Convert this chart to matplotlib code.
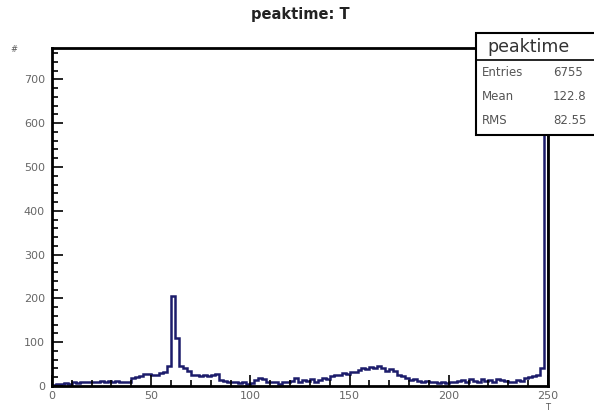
import matplotlib
matplotlib.use('Agg')
import matplotlib.pyplot as plt
import numpy as np
from matplotlib.ticker import MultipleLocator

# histogram "peaktime", 2-unit bins from 0 to 250
binEdges = np.arange(0, 252, 2)
counts = [
    2, 4, 5, 6, 5, 8, 7, 9, 8, 10,
    10, 9, 11, 10, 11, 10, 11, 10, 8, 10,
    18, 20, 22, 27, 28, 24, 26, 30, 33, 45,
    205, 110, 45, 42, 35, 25, 24, 23, 24, 22,
    24, 28, 14, 12, 10, 8, 10, 6, 8, 5,
    7, 14, 18, 16, 10, 8, 9, 5, 8, 10,
    12, 18, 10, 14, 12, 16, 10, 14, 18, 15,
    22, 26, 24, 30, 28, 33, 32, 36, 40, 38,
    44, 40, 46, 42, 35, 38, 34, 25, 22, 18,
    14, 15, 12, 10, 12, 8, 9, 6, 8, 6,
    9, 10, 12, 14, 10, 15, 12, 10, 16, 12,
    14, 10, 16, 14, 12, 10, 8, 14, 12, 18,
    20, 22, 24, 40, 735,
]
statNames = ['Entries', 'Mean', 'RMS']
statValues = ['6755', '122.8', '82.55']
xTicks = [0, 50, 100, 150, 200, 250]
yTicks = [0, 100, 200, 300, 400, 500, 600, 700]

plt.rcParams['font.family'] = ['DejaVu Sans']

W, H = 594, 413
fig = plt.figure(figsize=(W / 100, H / 100), dpi=100)
ax = fig.add_axes([0.0875, 0.0654, 0.835, 0.8184])

ax.stairs(counts, binEdges, color='#1c1c6b', linewidth=1.8)
ax.set_xlim(0, 250)
ax.set_ylim(0, max(counts) * 1.05)

ax.set_xticks(xTicks)
ax.set_yticks(yTicks)
ax.xaxis.set_minor_locator(MultipleLocator(10))
ax.yaxis.set_minor_locator(MultipleLocator(20))
ax.tick_params(which='both', direction='in', top=False, right=False,
               labelsize=8, labelcolor='#666666', width=1.2, color='black')
ax.tick_params(which='major', length=8)
ax.tick_params(which='minor', length=4)
ax.tick_params(axis='y', pad=5)
for spine in ax.spines.values():
    spine.set_linewidth(2)

fig.text(0.505, 1 - 15 / H, 'peaktime: T', ha='center', va='center', fontsize=10.5,
         fontweight='bold', color='#222222')
fig.text(14 / W, 1 - 50 / H, '#', ha='center', va='center', fontsize=6, color='#555555')
fig.text(548 / W, 1 - 407 / H, 'T', ha='center', va='center', fontsize=6, color='#555555')

# stat box (runs off the right edge like the original)
boxL, boxB, boxW, boxH = 476 / W, 1 - 135 / H, 0.25, 102 / H
fig.patches.append(plt.Rectangle((boxL, boxB), boxW, boxH, transform=fig.transFigure,
                                 facecolor='white', edgecolor='black', linewidth=1.5, zorder=5))
sepY = 1 - 60 / H
fig.add_artist(plt.Line2D([boxL, boxL + boxW], [sepY, sepY], transform=fig.transFigure,
                          color='black', linewidth=1.2, zorder=6))
fig.text(487 / W, 1 - 47 / H, 'peaktime', ha='left', va='center', fontsize=12.5,
         color='#333333', zorder=7)
rowY = [73, 97, 121]
for name, val, y in zip(statNames, statValues, rowY):
    fig.text(482 / W, 1 - y / H, name, ha='left', va='center', fontsize=8.5,
             color='#555555', zorder=7)
    fig.text(553 / W, 1 - y / H, val, ha='left', va='center', fontsize=8.5,
             color='#555555', zorder=7)

fig.savefig('out.png', dpi=100)
